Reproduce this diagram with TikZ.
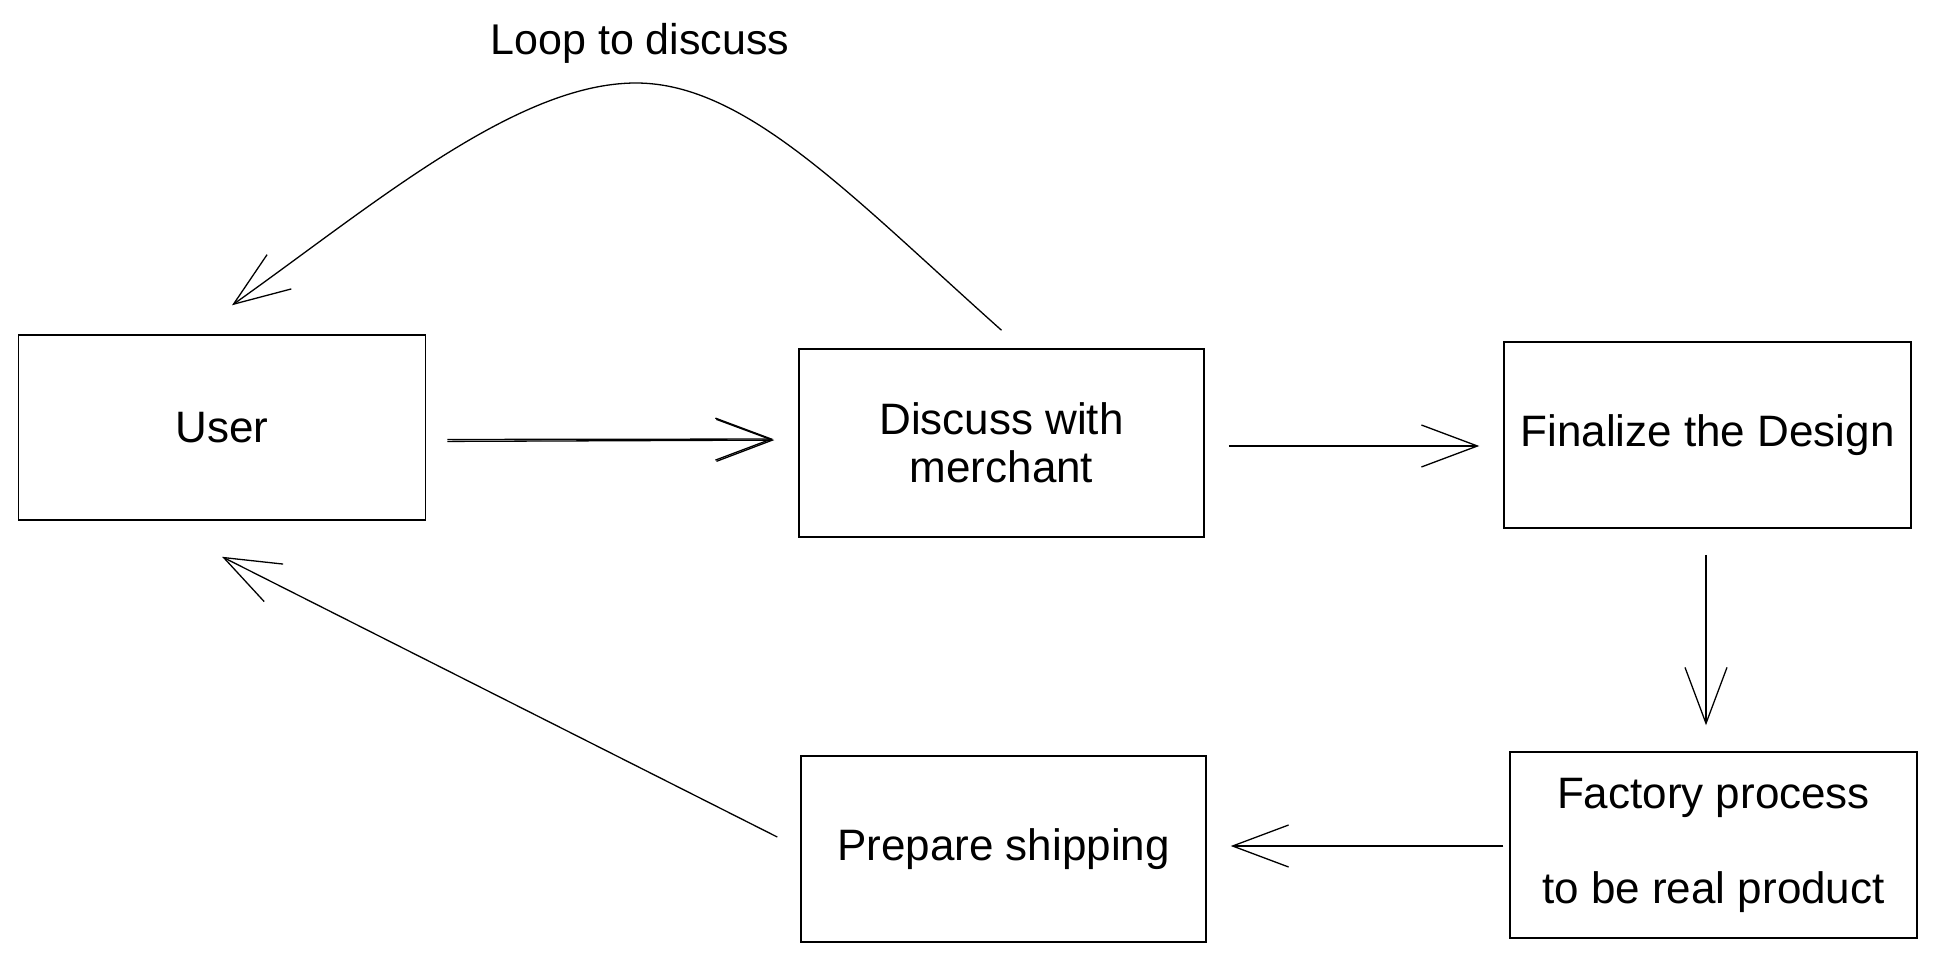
\documentclass[tikz,border=0pt]{standalone}
\usepackage{fontspec}
\setmainfont{Liberation Sans}
\usetikzlibrary{arrows.meta}
\begin{document}
\begin{tikzpicture}[x=1pt,y=-1pt,
  box/.style={draw=black, line width=1.5pt, minimum width=#1, inner sep=0pt, align=center,
    font=\fontsize{44}{48}\selectfont},
  arr/.style={draw=black, line width=1.3pt, -{Straight Barb[length=56pt,width=42pt,line width=1.3pt]}},
  lbl/.style={font=\fontsize{43}{48}\selectfont}]
\useasboundingbox[fill=white] (0,0) rectangle (1936,961);
\node[box=407pt, minimum height=185pt] (user) at (222,427.5) {User};
\node[box=405pt, minimum height=188pt] (discuss) at (1001.5,443) {Discuss with\\merchant};
\node[box=407pt, minimum height=186pt] (final) at (1707.5,435) {Finalize the Design};
\node[box=407pt, minimum height=186pt] (factory) at (1713.5,845) {Factory process\\[47pt]to be real product};
\node[box=405pt, minimum height=186pt] (prep) at (1003.5,849) {Prepare shipping};
\node[lbl] (looplbl) at (640,43) {Loop to discuss};
% connectors
\draw[arr, shorten <=21pt, shorten >=24pt] ([yshift=-14pt]user.east) -- ([yshift=3pt]discuss.west);
\draw[arr, shorten <=21pt, shorten >=25pt] ([yshift=-12pt]user.east) -- ([yshift=4pt]discuss.west);
\draw[arr, shorten <=24pt, shorten >=24pt] ([yshift=-3pt]discuss.east) -- ([yshift=-11pt]final.west);
\draw[arr, shorten <=26pt, shorten >=26pt] ([xshift=-1.5pt]final.south) -- ([xshift=-7.5pt]factory.north);
\draw[arr, shorten <=6pt, shorten >=24pt] ([yshift=-1pt]factory.west) -- ([yshift=3pt]prep.east);
\draw[arr] ([xshift=-23pt,yshift=12pt]prep.west) -- ([yshift=-36pt]user.south);
\draw[arr] ([yshift=18pt]discuss.north) .. controls (851,196) and (746,83) .. (636,83)
  .. controls (516,83) and (372,206) .. ([xshift=10pt,yshift=29pt]user.north);
\end{tikzpicture}
\end{document}
